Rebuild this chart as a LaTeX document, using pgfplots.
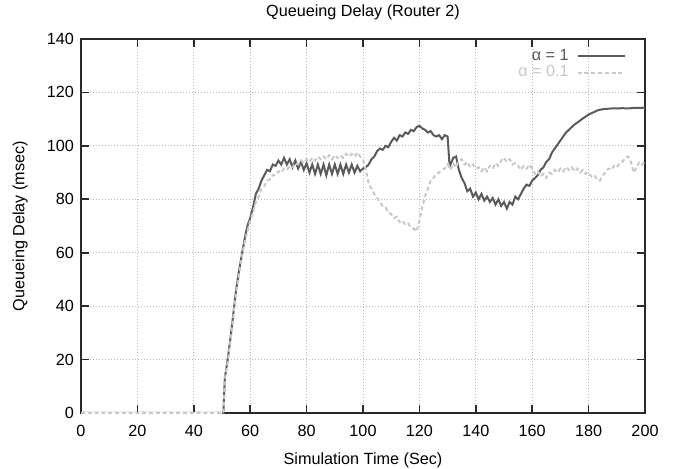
\documentclass[border=0pt]{standalone}
\usepackage{fontspec}
\setmainfont{Liberation Sans}
\usepackage{pgfplots}
\pgfplotsset{compat=1.18}
\definecolor{darkline}{HTML}{5A5A5A}
\definecolor{lightline}{HTML}{C8C8C8}
\definecolor{frame}{HTML}{2A2A2A}
\definecolor{gridc}{HTML}{B8B8B8}
\begin{document}
\begin{tikzpicture}
\useasboundingbox (-40.5pt,-28pt) rectangle (298.5pt,206.5pt);
\begin{axis}[
  scale only axis,
  width=282pt, height=187pt,
  xmin=0, xmax=200, ymin=0, ymax=140,
  xtick={0,20,...,200}, ytick={0,20,...,140},
  tick align=inside,
  major tick length=4pt,
  every tick/.style={frame, line width=0.8pt},
  axis line style={frame, line width=0.8pt},
  grid=major,
  major grid style={gridc, line width=0.5pt, dash pattern=on 0.5pt off 1pt},
  font=\fontsize{8.1}{9.6}\selectfont,
  /pgf/number format/assume math mode=true,
  xticklabel style={yshift=-2.5pt},
  clip=false,
  title={Queueing Delay (Router 2)},
  title style={at={(axis description cs:0.5,1.04)},anchor=center},
  xlabel={Simulation Time (Sec)},
  xlabel style={at={(axis description cs:0.5,-0.126)},anchor=center},
  ylabel={Queueing Delay (msec)},
  ylabel style={at={(axis description cs:-0.108,0.5)},anchor=center},
  legend cell align=right,
  legend plot pos=right,
  legend style={at={(1,1)}, anchor=north east, xshift=-6.5pt, yshift=-1pt, draw=none, fill=none, row sep=-3pt},
  legend image code/.code={\path (0pt,0pt); \draw[#1] (2pt,0pt) -- (25.5pt,0pt);},
]
\addplot[darkline, line width=1pt] coordinates {
(0,0)(50,0)(50.5,0)(51,13)(52,20)(53,28)(54,37)(55,46)(56,53)(57,59)(58,65)(59,70)(60,73)(61,77)(62,82)(63,84)(64,87)(65,89)(66,91)(67,90.5)(68,93)(69,92.5)(70,94.5)(71,93)(72,95.5)(73,93)(74,95)(75,92)(76,94.5)(77,91.5)(78,94)(79,91)(80,93.5)(81,90)(82,93)(83,89.5)(84,93)(85,89.5)(86,93)(87,89)(88,93)(89,89.5)(90,93)(91,89.5)(92,93)(93,89.5)(94,93)(95,90)(96,93)(97,90)(98,92.5)(99,90.5)(100,91.5)(101,92)(102,93)(103,95)(104,96)(105,98)(106,99)(107,98.5)(108,100)(109,99.5)(110,101.5)(111,103)(112,102)(113,104)(114,103.5)(115,105)(116,104.5)(117,106)(118,105.5)(119,107)(120,107.5)(121,106.5)(122,106)(123,105)(124,105.5)(125,104)(126,103.5)(127,104)(128,102.5)(129,104)(130,103.5)(130.6,94)(131,93)(132,95.5)(133,96)(134,91)(135,88)(136,86)(137,83)(138,84)(139,81)(140,82.5)(141,80)(142,82)(143,79.5)(144,81)(145,79)(146,80.5)(147,78)(148,80)(149,77.5)(150,79)(151,76.5)(152,79)(153,78)(154,81)(155,80)(156,82)(157,84)(158,85.5)(159,85)(160,87)(161,88)(162,89)(163,91)(164,92)(165,94)(166,95)(167,97.5)(168,99)(169,100.5)(170,102)(171,103.5)(172,105)(173,106)(174,107)(175,108)(176,108.7)(177,109.5)(178,110.3)(179,111)(180,111.7)(181,112.2)(182,112.7)(183,113.2)(184,113.5)(185,113.7)(186,113.8)(188,114)(190,114)(192,114.1)(194,114)(196,114.2)(198,114.2)(200,114.3)
};
\addlegendentry{\textcolor{darkline}{α = 1}}
\addplot[white, line width=1pt, forget plot] coordinates {(0,0)(50,0)};
\addplot[lightline, line width=1pt, dash pattern=on 2pt off 1.4pt] coordinates {
(0,0)(50,0)(50.5,0)(51,13)(52,19)(53,27)(54,36)(55,45)(56,52)(57,58)(58,64)(59,68)(60,72)(61,75)(62,79)(63,81)(64,84)(65,85)(66,87)(67,87.5)(68,89)(69,89)(70,90.5)(71,90)(72,91.5)(73,91)(74,92.5)(75,92)(76,93.5)(77,93)(78,94.5)(79,93.5)(80,95)(81,94)(82,95.5)(83,94.5)(84,96)(85,95)(86,96)(87,95)(88,96.5)(89,95)(90,96.5)(91,95.5)(92,96.5)(93,95.5)(94,97)(95,96)(96,97)(97,96)(98,97.5)(99,96)(100,95)(101,91)(102,86)(103,84)(104,82)(105,80.5)(106,79)(107,77.5)(108,77)(109,75)(110,74.5)(111,73)(112,73.5)(113,71.5)(114,72)(115,70.5)(116,71)(117,69.5)(118,69)(119,68)(120,72)(121,77)(122,81)(123,84)(124,87)(125,88)(126,89.5)(127,90)(128,91)(129,91.5)(130,93)(131,91)(132,93.5)(133,92)(134,94.5)(135,95)(136,93)(137,94)(138,92)(139,93)(140,91.5)(141,92)(142,90.5)(143,92)(144,90.5)(145,92.5)(146,91.5)(147,93.5)(148,92.5)(149,94.5)(150,95.5)(151,94)(152,95)(153,93)(154,93.5)(155,92.5)(156,91)(157,92.5)(158,91.5)(159,93)(160,91.5)(161,89.5)(162,90.5)(163,88.5)(164,89.5)(165,88)(166,90)(167,89.5)(168,91)(169,90)(170,91.5)(171,90.5)(172,92)(173,91)(174,92)(175,90.5)(176,91.5)(177,90)(178,91)(179,89.5)(180,90)(181,88.5)(182,89)(183,87.5)(184,87)(185,89)(186,90)(187,91.5)(188,91)(189,92.5)(190,92)(191,93.5)(192,94)(193,95.5)(194,96)(195,94)(196,90)(197,92)(198,94)(199,93)(200,94)
};
\addlegendentry{\textcolor{lightline}{α = 0.1}}
\end{axis}
\end{tikzpicture}
\end{document}
